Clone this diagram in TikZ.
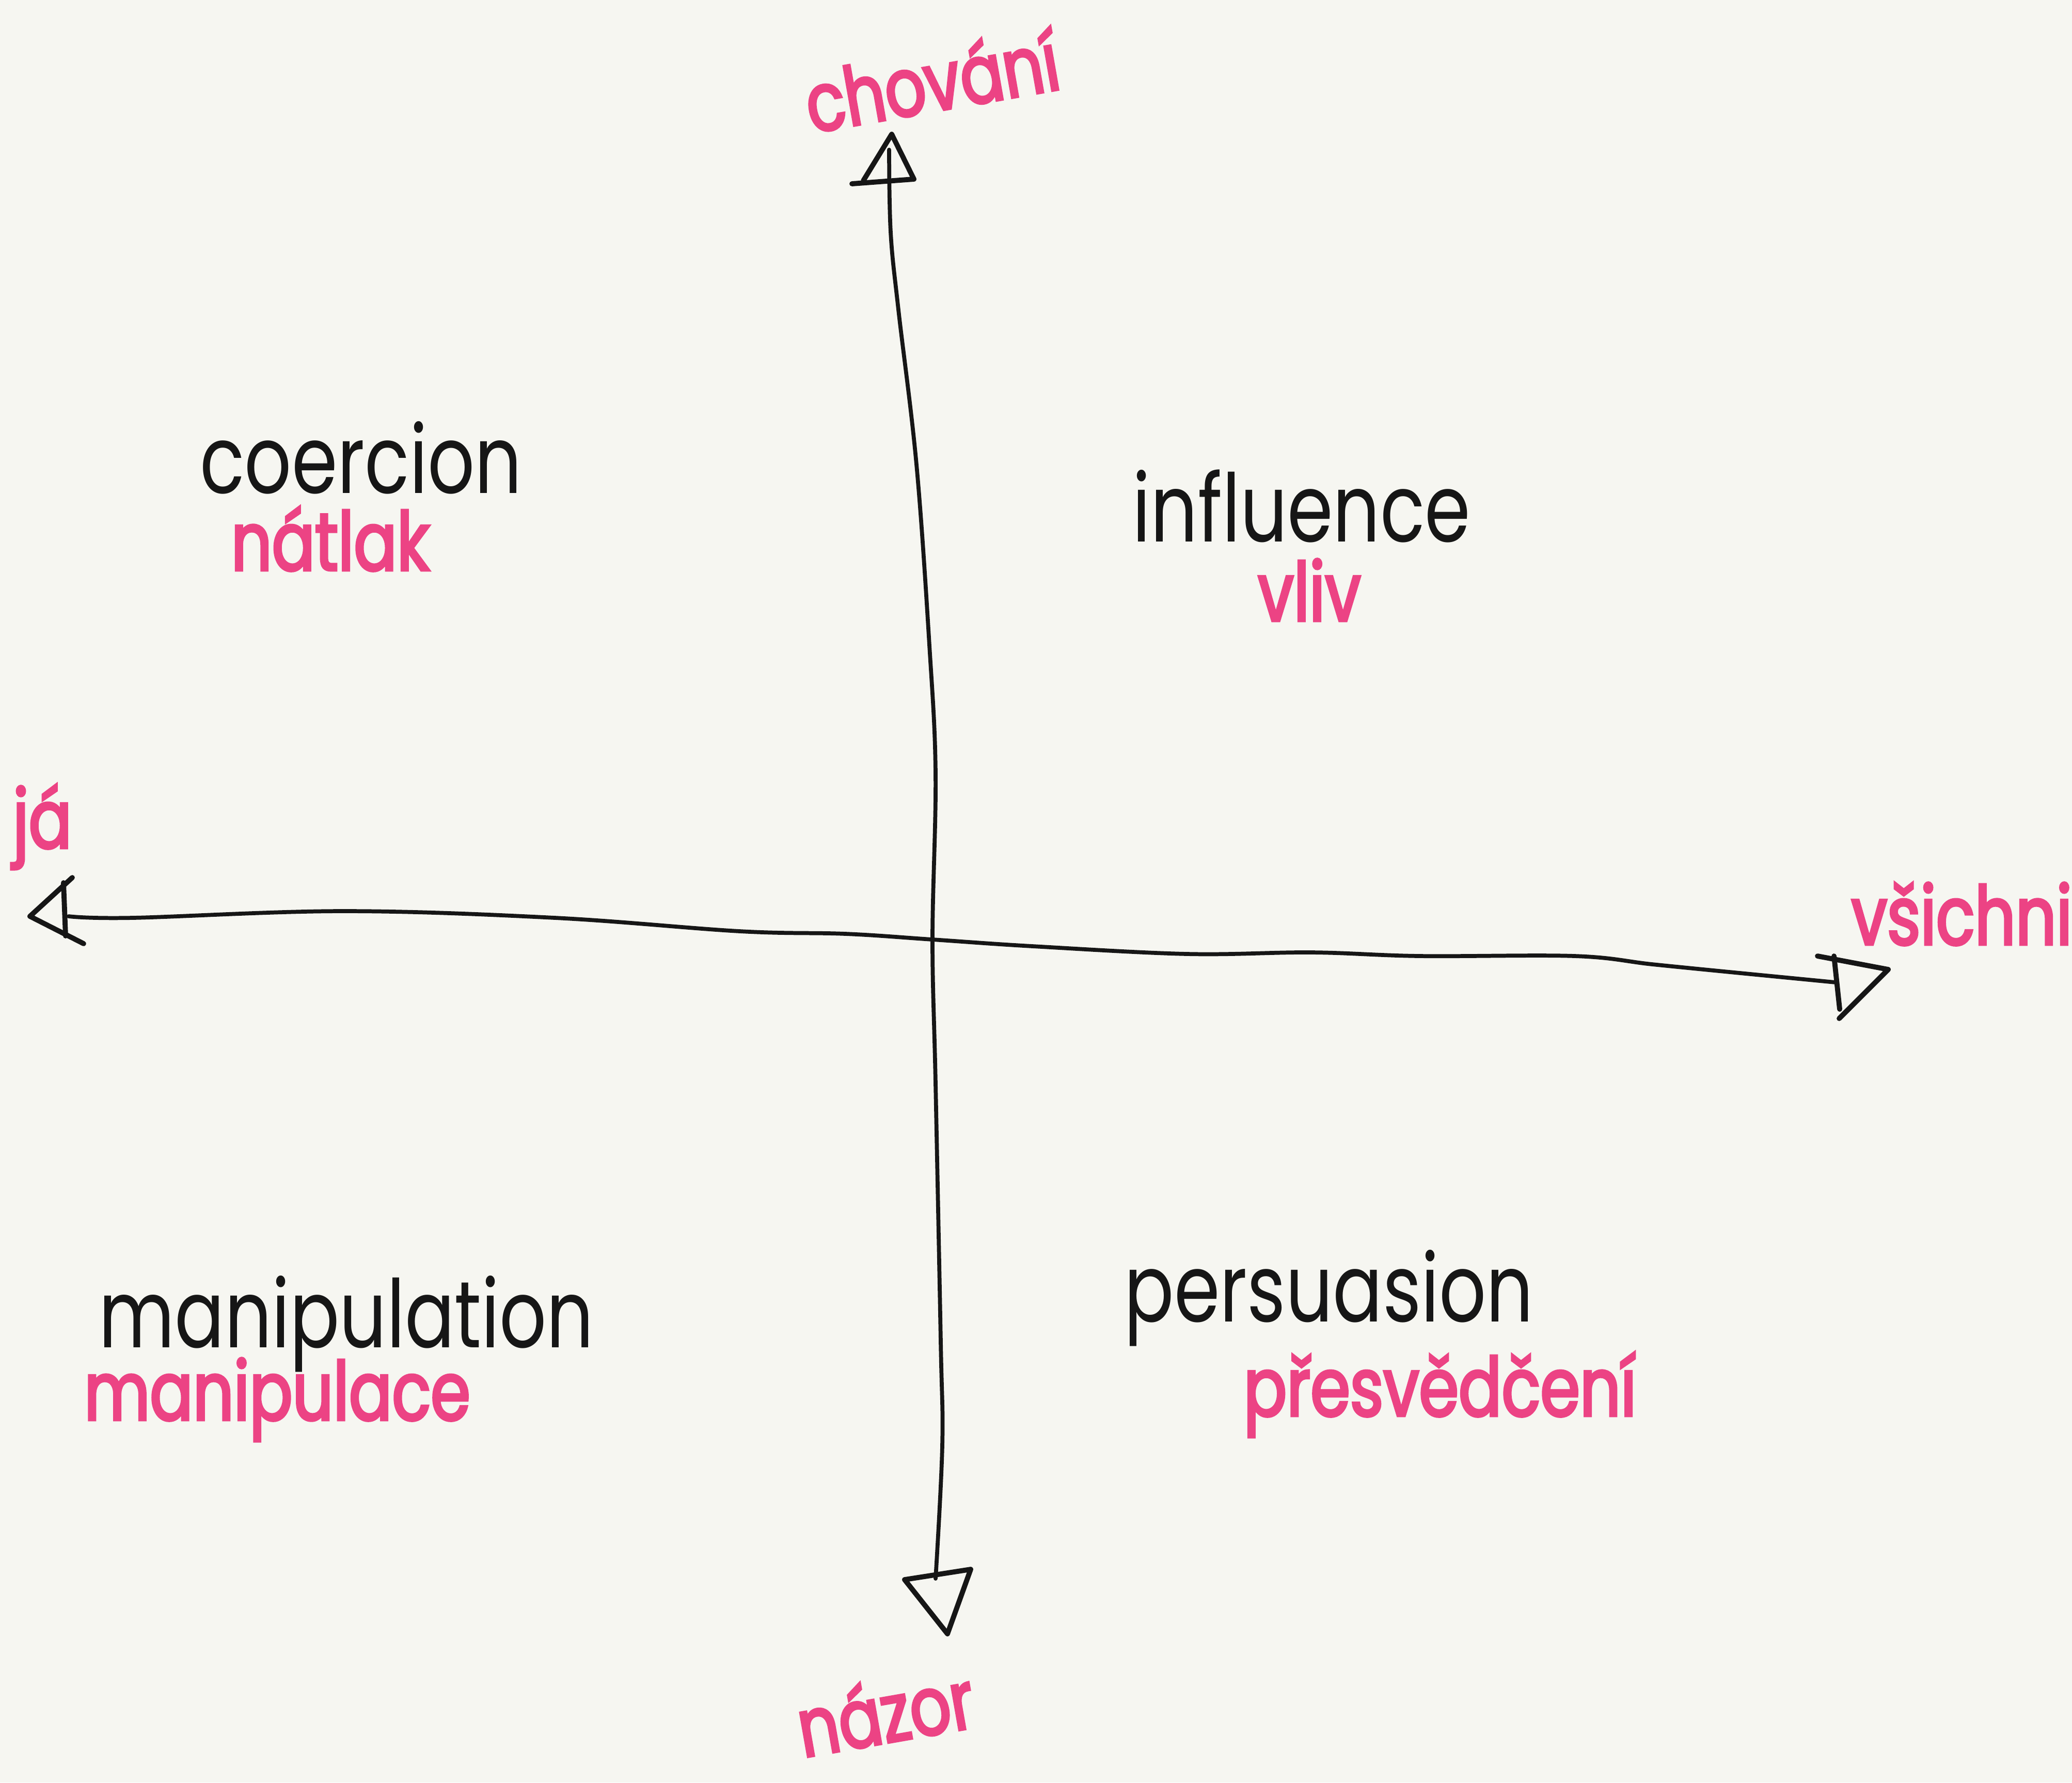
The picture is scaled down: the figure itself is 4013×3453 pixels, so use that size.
\documentclass[tikz,border=0pt]{standalone}
\usepackage{fontspec}
\setmainfont{Poppins}[FakeStretch=0.78]
\newfontfamily\czfont{Poppins}[FakeStretch=0.78, FakeBold=3]
\usetikzlibrary{calc}
\definecolor{paper}{HTML}{F6F6F1}
\definecolor{ink}{HTML}{161616}
\definecolor{hotpink}{HTML}{EC4384}

\begin{document}
\begin{tikzpicture}[x=0.01cm, y=-0.01cm,
	axis/.style={line width=2.2pt, color=ink, line cap=round, line join=round},
	tip/.style={line width=2.8pt, color=ink, line cap=round, line join=round},
	eng/.style={color=ink, font=\fontsize{52}{60}\selectfont, inner sep=0pt, anchor=base},
	cz/.style={color=hotpink, font=\czfont\fontsize{45}{54}\selectfont, inner sep=0pt, anchor=base}]
			%%%%% START %%%%%
			
			\fill[paper] (0, 0) rectangle (4013, 3453);
			\useasboundingbox (0, 0) rectangle (4013, 3453);
			
			\coordinate (top) at (1722, 290);
			\coordinate (bottom) at (1812, 3058);
			\coordinate (left) at (133, 1775);
			\coordinate (right) at (3555, 1903);
			
			\draw[axis] plot[smooth, tension=0.6] coordinates {(top) (1725, 450) (1740, 600) (1775, 900) (1800, 1250) (1812, 1500) (1806, 1820) (1812, 2100) (1822, 2600) (1825, 2800) (bottom)};
			\draw[axis] plot[smooth, tension=0.6] coordinates {(left) (256, 1778) (665, 1765) (1075, 1778) (1433, 1804) (1638, 1809) (1806, 1820) (2000, 1833) (2300, 1848) (2540, 1845) (2750, 1852) (3050, 1852) (3200, 1868) (3350, 1883) (right)};
			
			% hand drawn tips
			\draw[tip] (1650, 356) -- (1770, 347) -- (1727, 260) -- (1672, 350);
			\draw[tip] (140, 1700) -- (58, 1775) -- (162, 1828);
			\draw[tip] (123, 1710) -- (127, 1813);
			\draw[tip] (3520, 1852) -- (3657, 1878) -- (3562, 1973);
			\draw[tip] (3552, 1852) -- (3563, 1955);
			\draw[tip] (1752, 3060) -- (1880, 3040) -- (1835, 3165) -- cycle;
			
			\node[cz, rotate=10] (chovani) at (1815, 215) {chování};
			\node[cz, rotate=10] (nazor) at (1725, 3375) {názor};
			\node[cz] (ja) at (82, 1643) {já};
			\node[cz, anchor=base west] (vsichni) at (3585, 1830) {všichni};
			
			\node[eng] (coercion) at (699, 955) {coercion};
			\node[cz] (natlak) at (640, 1105) {nátlak};
			\node[eng] (influence) at (2521, 1049) {influence};
			\node[cz] (vliv) at (2536, 1203) {vliv};
			\node[eng] (manipulation) at (671, 2610) {manipulation};
			\node[cz] (manipulace) at (537, 2751) {manipulace};
			\node[eng] (persuasion) at (2574, 2560) {persuasion};
			\node[cz] (presvedceni) at (2789, 2743) {přesvědčení};
			
			%%%%% END %%%%%
\end{tikzpicture}
\end{document}
